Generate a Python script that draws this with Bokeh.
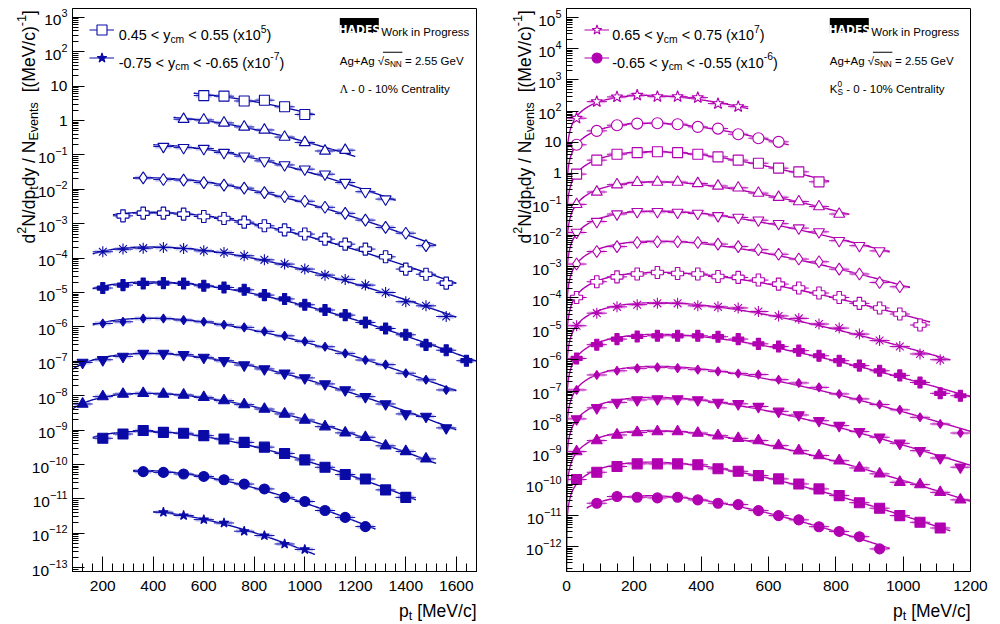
import numpy as np
from bokeh.plotting import figure
from bokeh.models import Label, BoxAnnotation, Legend, LegendItem, Range1d, FixedTicker
from bokeh.layouts import row, column
from bokeh.embed import file_html
from bokeh.resources import INLINE

# ----------------------------------------------------------------- data
# Lambda, 0-10% centrality: pt bin centres [MeV/c] (bin width 80)
LAMBDA_PT_BINS = [120, 200, 280, 360, 440, 520, 600, 680, 760, 840,
                  920, 1000, 1080, 1160, 1240, 1320, 1400, 1480, 1560, 1640]
LAMBDA_BIN_WIDTH = 80
LAMBDA_MASS = 1115.68
LAMBDA_Y_LOW = [0.45, 0.35, 0.25, 0.15, 0.05, -0.05, -0.15, -0.25, -0.35, -0.45, -0.55, -0.65, -0.75]
LAMBDA_SCALE_EXP = [5, 4, 3, 2, 1, 0, -1, -2, -3, -4, -5, -6, -7]
LAMBDA_FIRST_BIN = [6, 5, 4, 3, 2, 1, 1, 1, 0, 0, 1, 3, 4]
LAMBDA_VALUES = [
    [5.3, 5.1, 3.7, 3.9, 2.5, 1.5],
    [1.09, 1.04, 0.85, 0.65, 0.53, 0.33, 0.23, 0.13, 0.137],
    [0.175, 0.163, 0.153, 0.117, 0.092, 0.067, 0.051, 0.0385, 0.0275, 0.0157, 0.0085, 0.0052],
    [0.0215, 0.0192, 0.0185, 0.0157, 0.0132, 0.0108, 0.008, 0.0061, 0.0045, 0.003, 0.002,
     0.00127, 0.00078, 0.00053, 0.00023],
    [1.69e-3, 2.03e-3, 2.03e-3, 1.9e-3, 1.62e-3, 1.42e-3, 1.11e-3, 8.7e-4, 6.6e-4, 5.0e-4,
     3.56e-4, 2.55e-4, 1.83e-4, 1.09e-4, 4.8e-5, 3.4e-5, 1.88e-5],
    [1.53e-4, 1.83e-4, 1.95e-4, 2.03e-4, 1.9e-4, 1.63e-4, 1.46e-4, 1.17e-4, 8.9e-5, 6.7e-5,
     4.8e-5, 3.2e-5, 2.4e-5, 1.64e-5, 1.0e-5, 5.4e-6, 4.1e-6, 2.0e-6],
    [1.35e-5, 1.64e-5, 1.83e-5, 1.88e-5, 1.83e-5, 1.57e-5, 1.40e-5, 1.2e-5, 8.4e-6, 6.5e-6,
     4.4e-6, 3.1e-6, 2.2e-6, 1.35e-6, 9.0e-7, 5.9e-7, 3.0e-7, 2.1e-7, 1.04e-7],
    [1.26e-6, 1.41e-6, 1.76e-6, 1.76e-6, 1.58e-6, 1.41e-6, 1.16e-6, 9.7e-7, 7.4e-7, 5.5e-7,
     3.8e-7, 2.65e-7, 1.7e-7, 1.09e-7, 8.0e-8, 4.5e-8, 2.9e-8, 1.47e-8],
    [9.3e-8, 1.11e-7, 1.39e-7, 1.70e-7, 1.70e-7, 1.56e-7, 1.30e-7, 1.04e-7, 7.8e-8, 6.0e-8,
     4.5e-8, 3.3e-8, 2.2e-8, 1.47e-8, 9.4e-9, 5.75e-9, 2.95e-9, 2.5e-9, 1.16e-9],
    [5.75e-9, 9.4e-9, 1.12e-8, 1.17e-8, 1.12e-8, 1.05e-8, 8.95e-9, 7.2e-9, 5.5e-9, 4.1e-9,
     2.95e-9, 1.97e-9, 1.26e-9, 8.3e-10, 6.2e-10, 3.5e-10, 2.4e-10, 1.46e-10],
    [5.8e-10, 7.7e-10, 9.7e-10, 8.6e-10, 8.1e-10, 6.9e-10, 5.5e-10, 4.4e-10, 3.2e-10, 2.1e-10,
     1.36e-10, 8.3e-11, 5.1e-11, 3.8e-11, 1.83e-11, 1.11e-11],
    [6.2e-11, 5.9e-11, 5.3e-11, 4.5e-11, 3.6e-11, 2.7e-11, 1.95e-11, 1.11e-11, 8.4e-12, 4.6e-12,
     2.9e-12, 1.57e-12],
    [4.1e-12, 3.3e-12, 2.5e-12, 2.0e-12, 1.15e-12, 8.6e-13, 4.9e-13, 3.4e-13],
]

# K0S, 0-10% centrality: pt bin centres [MeV/c] (bin width 60)
K0S_PT_BINS = [30, 90, 150, 210, 270, 330, 390, 450, 510, 570,
               630, 690, 750, 810, 870, 930, 990, 1050, 1110, 1170]
K0S_BIN_WIDTH = 60
K0S_MASS = 497.61
K0S_Y_LOW = [0.65, 0.55, 0.45, 0.35, 0.25, 0.15, 0.05, -0.05, -0.15, -0.25, -0.35, -0.45, -0.55, -0.65]
K0S_SCALE_EXP = [7, 6, 5, 4, 3, 2, 1, 0, -1, -2, -3, -4, -5, -6]
K0S_FIRST_BIN = [0, 0, 0, 0, 0, 0, 0, 0, 0, 0, 0, 0, 0, 1]
K0S_VALUES = [
    [58.7, 200, 284, 321, 290, 290, 269, 173, 138],
    [8.2, 23, 35, 39.4, 40.6, 37.7, 30.9, 27.2, 18, 13.4, 10.2],
    [0.94, 2.64, 4.1, 4.6, 4.9, 4.6, 4.1, 3.36, 2.64, 2.1, 1.46, 1.11, 0.53],
    [0.10, 0.25, 0.43, 0.51, 0.52, 0.52, 0.47, 0.39, 0.34, 0.23, 0.17, 0.123, 0.085, 0.049],
    [0.0125, 0.028, 0.049, 0.058, 0.058, 0.055, 0.051, 0.043, 0.038, 0.031, 0.024, 0.0173,
     0.0131, 0.0068, 0.0047, 0.0032],
    [1.21e-3, 3.06e-3, 4.4e-3, 5.96e-3, 6.3e-3, 6.3e-3, 5.96e-3, 5.3e-3, 4.4e-3, 3.5e-3,
     2.5e-3, 1.75e-3, 1.43e-3, 8.3e-4, 5.8e-4, 3.1e-4, 2.25e-4],
    [1.02e-4, 3.27e-4, 4.7e-4, 5.8e-4, 6.5e-4, 6.0e-4, 5.8e-4, 4.8e-4, 4.5e-4, 3.7e-4,
     2.75e-4, 2.05e-4, 1.42e-4, 1.02e-4, 6.6e-5, 4.7e-5, 3.0e-5, 1.33e-5],
    [1.26e-5, 3.2e-5, 5.1e-5, 6.0e-5, 6.6e-5, 6.6e-5, 5.5e-5, 5.1e-5, 4.7e-5, 3.6e-5,
     2.6e-5, 2.17e-5, 1.43e-5, 1.06e-5, 6.8e-6, 4.2e-6, 2.7e-6, 1.56e-6, 1.02e-6],
    [1.12e-6, 3.1e-6, 4.7e-6, 5.7e-6, 6.0e-6, 6.0e-6, 6.0e-6, 5.6e-6, 4.7e-6, 3.3e-6,
     2.7e-6, 2.0e-6, 1.37e-6, 9.5e-7, 6.6e-7, 4.5e-7, 3.2e-7, 1.9e-7, 8.5e-8, 7.1e-8],
    [1.09e-7, 3.3e-7, 4.5e-7, 5.4e-7, 5.8e-7, 5.5e-7, 4.9e-7, 4.3e-7, 3.7e-7, 3.4e-7,
     2.33e-7, 1.83e-7, 1.32e-7, 8.1e-8, 5.6e-8, 3.7e-8, 2.5e-8, 1.44e-8, 8.8e-9, 4.5e-9],
    [1.28e-8, 2.9e-8, 4.35e-8, 5.2e-8, 5.6e-8, 5.6e-8, 5.2e-8, 4.35e-8, 3.9e-8, 3.2e-8,
     2.24e-8, 1.71e-8, 1.12e-8, 7.8e-9, 5.0e-9, 3.3e-9, 2.1e-9, 1.22e-9, 7.1e-10, 3.6e-10],
    [1.14e-9, 2.57e-9, 3.9e-9, 4.7e-9, 5.0e-9, 5.0e-9, 4.5e-9, 3.7e-9, 3.04e-9, 2.57e-9,
     1.77e-9, 1.22e-9, 8.5e-10, 5.8e-10, 3.4e-10, 2.2e-10, 1.18e-10, 9.9e-11, 5.6e-11, 3.2e-11],
    [1.44e-10, 2.47e-10, 3.8e-10, 4.6e-10, 4.6e-10, 4.6e-10, 4.3e-10, 3.2e-10, 2.65e-10, 1.93e-10,
     1.51e-10, 1.04e-10, 7.2e-11, 4.4e-11, 2.6e-11, 1.73e-11, 1.0e-11, 6.1e-12, 4.0e-12],
    [2.5e-11, 4.1e-11, 3.9e-11, 3.7e-11, 3.9e-11, 3.2e-11, 2.5e-11, 2.26e-11, 1.45e-11, 1.0e-11,
     7.3e-12, 4.4e-12, 3.1e-12, 2.1e-12, 8.5e-13],
]

LAMBDA_X_TICKS = [200, 400, 600, 800, 1000, 1200, 1400, 1600]
K0S_X_TICKS = [0, 200, 400, 600, 800, 1000, 1200]

# ----------------------------------------------------------------- style
FONT = "Liberation Sans"
BLUE, BLUE_SYS = "#0a0aa6", "#8a8ae6"
MAG, MAG_SYS = "#b000b0", "#e08ae0"
LAMBDA_MARKERS = [("square", False, 10), ("triangle", False, 11), ("inverted_triangle", False, 11),
                  ("diamond", False, 12), ("plus", False, 12), ("asterisk", False, 11),
                  ("plus", True, 11), ("diamond", True, 9), ("inverted_triangle", True, 11),
                  ("triangle", True, 11), ("square", True, 10), ("circle", True, 10),
                  ("star", True, 10)]
K0S_MARKERS = [("star", False, 12), ("circle", False, 11), ("square", False, 10),
               ("triangle", False, 11), ("inverted_triangle", False, 11), ("diamond", False, 12),
               ("plus", False, 12), ("asterisk", False, 11), ("plus", True, 11),
               ("diamond", True, 9), ("inverted_triangle", True, 11), ("triangle", True, 11),
               ("square", True, 10), ("circle", True, 10)]

WID = {' ': 278, '(': 333, ')': 333, '+': 584, '-': 333, '.': 278, '/': 278, '<': 584, '=': 584,
       '[': 278, ']': 278, '%': 889, 'A': 667, 'C': 722, 'E': 667, 'G': 778, 'K': 667, 'M': 833,
       'N': 722, 'P': 667, 'S': 667, 'V': 667, 'W': 944, 'a': 556, 'c': 500, 'd': 556, 'e': 556,
       'g': 556, 'i': 222, 'k': 500, 'l': 222, 'm': 833, 'n': 556, 'o': 556, 'p': 556, 'r': 333,
       's': 500, 't': 278, 'v': 500, 'x': 500, 'y': 500, '\u221a': 549, '\u039b': 722}


def tw(s, size):
    return sum(WID.get(c, 556) for c in s) * size / 1000.0


SUBF = 0.72
TITLE = 17.5
AXIS_BORDER = 50


def boltzmann_fit(pt, v, m0):
    pt = np.asarray(pt, float)
    v = np.asarray(v, float)
    mt = np.sqrt(pt ** 2 + m0 ** 2)
    slope, icpt = np.polyfit(mt - m0, np.log(v / (pt * mt)), 1)

    def f(x):
        m = np.sqrt(x ** 2 + m0 ** 2)
        return np.exp(icpt + slope * (m - m0)) * x * m
    return f


def make_panel(xr, yr, xticks, xminor, ydecades, border_right, overlap):
    p = figure(frame_width=404, frame_height=563, x_range=Range1d(*xr), y_range=Range1d(*yr),
               y_axis_type="log", output_backend="svg", toolbar_location=None,
               min_border_left=AXIS_BORDER, min_border_right=border_right,
               min_border_top=8, min_border_bottom=27, margin=(0, 0, 0, -overlap))
    p.xgrid.visible = False
    p.ygrid.visible = False
    p.outline_line_color = "black"
    p.outline_line_width = 1
    p.outline_line_alpha = 1
    p.background_fill_color = "white"
    p.border_fill_alpha = 0.0
    xa = p.xaxis[0]
    xa.ticker = FixedTicker(ticks=xticks, minor_ticks=xminor)
    ya = p.yaxis[0]
    ya.ticker = FixedTicker(ticks=[10.0 ** k for k in ydecades],
                            minor_ticks=[m * 10.0 ** k for k in range(ydecades[0] - 1, ydecades[-1] + 1)
                                         for m in range(2, 10)])
    ya.major_label_overrides = {1.0: "1", 10.0: "10"}
    for ax, mj, mn, so in ((xa, 15, 8, 9), (ya, 12, 6, 5)):
        ax.major_tick_in = mj
        ax.major_tick_out = 0
        ax.minor_tick_in = mn
        ax.minor_tick_out = 0
        ax.axis_line_color = "black"
        ax.major_tick_line_color = "black"
        ax.minor_tick_line_color = "black"
        ax.major_label_text_font = FONT
        ax.major_label_text_font_size = "15.5px"
        ax.major_label_text_color = "black"
        ax.major_label_standoff = so
    return p


def make_strip(w, h):
    s = figure(frame_width=w, frame_height=h, x_range=Range1d(0, w), y_range=Range1d(0, h),
               output_backend="svg", toolbar_location=None, min_border=0,
               x_axis_location=None, y_axis_location=None)
    s.grid.visible = False
    s.outline_line_color = None
    s.background_fill_color = "white"
    s.border_fill_color = "white"
    return s


def put(panel, X, Y, text, size, angle=0.0, font=FONT, color="black", style="normal",
        align="left", baseline="alphabetic"):
    lead = len(text) - len(text.lstrip(" "))
    txt = text.strip(" ")
    if not txt:
        return
    off = tw(" " * lead, size)
    if angle:
        Y = Y - off
    else:
        X = X + off
    panel["p"].add_layout(Label(x=X - panel["fl"], y=panel["fb"] - Y, x_units="screen",
                                y_units="screen", text=txt, angle=angle, text_font=font,
                                text_font_size="%.2fpx" % size, text_color=color,
                                text_font_style=style, text_align=align,
                                text_baseline=baseline))


def put_rich(panel, X, Y, pieces, size, vertical=False, fonts=None):
    """pieces: list of (text, kind) with kind in n / sub / sup / supsub."""
    pos = 0.0
    for i, (txt, kind) in enumerate(pieces):
        font = (fonts or {}).get(i, FONT)
        if kind == "n":
            items = [(txt, size, 0.0)]
            adv = tw(txt, size)
        elif kind == "sup":
            items = [(txt, size * SUBF, 0.42 * size)]
            adv = tw(txt, size * SUBF)
        elif kind == "sub":
            items = [(txt, size * SUBF, -0.30 * size)]
            adv = tw(txt, size * SUBF)
        else:  # supsub: txt = (sup, sub)
            items = [(txt[0], size * SUBF, 0.42 * size), (txt[1], size * SUBF, -0.30 * size)]
            adv = max(tw(txt[0], size * SUBF), tw(txt[1], size * SUBF))
        for t, s, raise_ in items:
            if vertical:
                put(panel, X - raise_, Y - pos, t, s, angle=np.pi / 2, font=font)
            else:
                put(panel, X + pos, Y - raise_, t, s, font=font)
        pos += adv
    return pos


def box(panel, X0, X1, Y0, Y1, color="black"):
    panel["p"].add_layout(BoxAnnotation(left=X0 - panel["fl"], right=X1 - panel["fl"],
                                        top=panel["fb"] - Y0, bottom=panel["fb"] - Y1,
                                        left_units="screen", right_units="screen",
                                        top_units="screen", bottom_units="screen",
                                        fill_color=color, fill_alpha=1.0, line_alpha=0))


def draw_series(p, bins, bw, first, vals, mass, marker, color, syscolor, xr, from_zero):
    n = len(vals)
    x = np.array(bins[first:first + n], float)
    v = np.array(vals, float)
    # Boltzmann fit to the points, drawn over the fitted bin range
    f = boltzmann_fit(x, v, mass)
    lo = max(x[0] - bw / 2, xr[0])
    hi = min(x[-1] + bw / 2, xr[1])
    if from_zero and lo <= 0:
        xc = np.concatenate([np.geomspace(1e-3, bw / 2, 80), np.linspace(bw / 2, hi, 300)[1:]])
    else:
        xc = np.linspace(lo, hi, 300)
    p.line(xc, f(xc), line_color=color, line_width=1.4)
    p.quad(left=x - 0.4 * bw, right=x + 0.4 * bw, bottom=v / 1.15, top=v * 1.15,
           fill_color=syscolor, fill_alpha=0.45, line_alpha=0)
    seg = p.segment(x - bw / 2, v, x + bw / 2, v, line_color=color, line_width=1)
    mk, filled, size = marker
    sc = p.scatter(x, v, marker=mk, size=size, line_color=color, line_width=1.1,
                   fill_color=color if filled else "white", fill_alpha=1)
    return seg, sc


def legend_rows(panel, rs, gx, gy_top):
    items = [LegendItem(label=" ", renderers=list(r)) for r in rs]
    lg = Legend(items=items, location=(gx - panel["fl"], panel["fb"] - (gy_top + 53)),
                glyph_width=25, glyph_height=25, spacing=3, padding=0, margin=0,
                label_standoff=0, label_width=0, label_height=25,
                label_text_font_size="1px", background_fill_alpha=0, border_line_alpha=0)
    panel["p"].add_layout(lg)


def y_title(panel, X):
    put_rich(panel, X, 235, [("d", "n"), ("2", "sup"), ("N/dp", "n"), ("t", "sub"),
                             ("dy / N", "n"), ("Events", "sub"), ("  [(MeV/c)", "n"),
                             ("-1", "sup"), ("]", "n")], TITLE, vertical=True)


def x_title(panel, right, Y):
    pcs = [("p", "n"), ("t", "sub"), (" [MeV/c]", "n")]
    w = tw("p", TITLE) + tw("t", TITLE * SUBF) + tw(" [MeV/c]", TITLE)
    put_rich(panel, right - w, Y, pcs, TITLE)


def header(panel, X0, species_pieces, fonts=None):
    box(panel, X0, X0 + 39, 17.5, 32.5)
    put(panel, X0 + 19.5, 29.8, "HADES", 12.0, font="DejaVu Sans Condensed", color="white",
        style="bold", align="center")
    put(panel, X0 + 41.5, 31.7, "Work in Progress", 11.5)
    s = 11.5
    put_rich(panel, X0, 60.5, [("Ag+Ag ", "n"), ("\u221a", "n"), ("s", "n"), ("NN", "sub"),
                               (" = 2.55 GeV", "n")], s)
    xs = X0 + tw("Ag+Ag ", s) + tw("\u221a", s) * 0.8
    xe = X0 + tw("Ag+Ag \u221as", s) + tw("NN", s * SUBF) + 0.5
    ybar = 60.5 - 0.80 * s
    box(panel, xs, xe, ybar, ybar + 0.9)
    put_rich(panel, X0, 88.5, species_pieces, s, fonts=fonts)


def range_label(ylow, exp):
    return [("%.2f < y" % ylow, "n"), ("cm", "sub"), (" < %.2f (x10" % (ylow + 0.1), "n"),
            ("%d" % exp, "sup"), (")", "n")]


# page layout (pixels from the page's top-left corner):
#   tL 0..40 | pL 22..504 (pulled 18 px over tL, frame 72..476) | tR 504..536 |
#   pR 516..992 (pulled 20 px over tR, frame 566..970)
#   rows: figures 0..598 (frames 8..571), x-title strip 598..622

# ----------------------------------------------------------------- left panel (Lambda)
L_XR = (80, 1680)
L_YR = (10 ** -13.11, 10 ** 3.256)
pL = make_panel(L_XR, L_YR, LAMBDA_X_TICKS, list(range(80, 1681, 40)), list(range(-13, 4)), 28, 18)
left = {"p": pL, "fl": 72.0, "fb": 571.0}
lam_r = []
for i, vals in enumerate(LAMBDA_VALUES):
    lam_r.append(draw_series(pL, LAMBDA_PT_BINS, LAMBDA_BIN_WIDTH, LAMBDA_FIRST_BIN[i], vals,
                             LAMBDA_MASS, LAMBDA_MARKERS[i], BLUE, BLUE_SYS, L_XR, False))
legend_rows(left, [lam_r[0], lam_r[-1]], 88.7, 16.5)
put_rich(left, 118.3, 34.2, range_label(LAMBDA_Y_LOW[0], LAMBDA_SCALE_EXP[0]), 14.4)
put_rich(left, 118.3, 62.0, range_label(LAMBDA_Y_LOW[-1], LAMBDA_SCALE_EXP[-1]), 14.4)
header(left, 339.3, [("\u039b", "n"), (" - 0 - 10% Centrality", "n")], fonts={0: "Liberation Serif"})

# ----------------------------------------------------------------- right panel (K0S)
R_XR = (0, 1200)
R_YR = (10 ** -12.796, 10 ** 5.294)
pR = make_panel(R_XR, R_YR, K0S_X_TICKS, list(range(0, 1201, 50)), list(range(-12, 6)), 22, 20)
right = {"p": pR, "fl": 566.0, "fb": 571.0}
k_r = []
for i, vals in enumerate(K0S_VALUES):
    k_r.append(draw_series(pR, K0S_PT_BINS, K0S_BIN_WIDTH, K0S_FIRST_BIN[i], vals,
                           K0S_MASS, K0S_MARKERS[i], MAG, MAG_SYS, R_XR, True))
legend_rows(right, [k_r[0], k_r[-1]], 583.5, 16.5)
put_rich(right, 611.7, 34.2, range_label(K0S_Y_LOW[0], K0S_SCALE_EXP[0]), 14.4)
put_rich(right, 611.7, 62.0, range_label(K0S_Y_LOW[-1], K0S_SCALE_EXP[-1]), 14.4)
header(right, 829.3, [("K", "n"), (("0", "S"), "supsub"), (" - 0 - 10% Centrality", "n")])

# ----------------------------------------------------------------- axis-title strips
tL = make_strip(40, 598)
tR = make_strip(32, 598)
xt = make_strip(992, 24)
y_title({"p": tL, "fl": 0.0, "fb": 598.0}, 28.0)
y_title({"p": tR, "fl": 504.0, "fb": 598.0}, 524.5)
x_title({"p": xt, "fl": 0.0, "fb": 622.0}, 476.0, 610.5)
x_title({"p": xt, "fl": 0.0, "fb": 622.0}, 970.0, 610.5)

layout = column(row(tL, pL, tR, pR, spacing=0), xt, spacing=0)
open("out.html", "w").write(file_html(layout, INLINE))
